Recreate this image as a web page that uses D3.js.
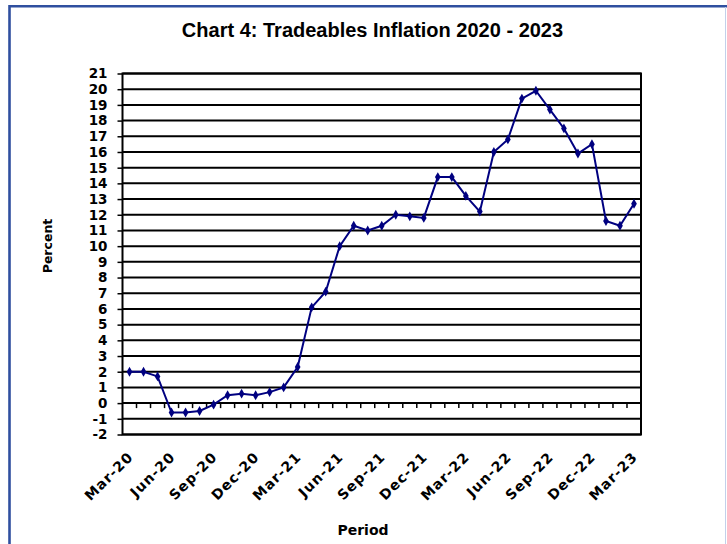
<!DOCTYPE html>
<html>
<head>
<meta charset="utf-8">
<script src="https://cdn.jsdelivr.net/npm/d3@7"></script>
<style>
  body { margin: 0; background: #fff; }
  svg { display: block; font-family: 'DejaVu Sans', sans-serif; }
</style>
</head>
<body>
<svg id="chart" width="727" height="544"></svg>
<script>
// monthly periods, Mar-20 .. Mar-23
var periods = [
  'Mar-20', 'Apr-20', 'May-20', 'Jun-20', 'Jul-20', 'Aug-20', 'Sep-20', 'Oct-20', 'Nov-20', 'Dec-20',
  'Jan-21', 'Feb-21', 'Mar-21', 'Apr-21', 'May-21', 'Jun-21', 'Jul-21', 'Aug-21', 'Sep-21', 'Oct-21',
  'Nov-21', 'Dec-21', 'Jan-22', 'Feb-22', 'Mar-22', 'Apr-22', 'May-22', 'Jun-22', 'Jul-22', 'Aug-22',
  'Sep-22', 'Oct-22', 'Nov-22', 'Dec-22', 'Jan-23', 'Feb-23', 'Mar-23'
]

// tradeables inflation, percent
var inflation = [
  2.0, 2.0, 1.7, -0.6, -0.6, -0.5, -0.1, 0.5, 0.6, 0.5,
  0.7, 1.0, 2.3, 6.1, 7.1, 10.0, 11.3, 11.0, 11.3, 12.0,
  11.9, 11.8, 14.4, 14.4, 13.2, 12.2, 16.0, 16.8, 19.4, 19.9,
  18.7, 17.5, 15.9, 16.5, 11.6, 11.3, 12.7
]

var xTickLabels = ['Mar-20', 'Jun-20', 'Sep-20', 'Dec-20', 'Mar-21', 'Jun-21', 'Sep-21',
  'Dec-21', 'Mar-22', 'Jun-22', 'Sep-22', 'Dec-22', 'Mar-23']

var yTicks = [-2, -1, 0, 1, 2, 3, 4, 5, 6, 7, 8, 9, 10, 11, 12, 13, 14, 15, 16, 17, 18, 19, 20, 21]

var svg = d3.select('#chart')

// plot box (window.top is reserved, so no plain `top`)
var plotLeft = 122.5
var plotRight = 641
var plotTop = 73.5
var plotBottom = 434.5
var lineColor = '#000080'

// outer frame (blue rule on top and left, faint on right)
svg.append('line')
  .attr('x1', 9.5).attr('x2', 727).attr('y1', 6.2).attr('y2', 6.2)
  .attr('stroke', '#2f4f9f').attr('stroke-width', 2.6)
svg.append('line')
  .attr('x1', 9.5).attr('x2', 9.5).attr('y1', 5).attr('y2', 544)
  .attr('stroke', '#2f4f9f').attr('stroke-width', 2.6)
svg.append('line')
  .attr('x1', 725.5).attr('x2', 725.5).attr('y1', 7).attr('y2', 544)
  .attr('stroke', '#c3d0ea').attr('stroke-width', 1)

var x = d3.scaleBand()
  .domain(periods)
  .range([plotLeft, plotRight])

var y = d3.scaleLinear()
  .domain([-2, 21])
  .range([plotBottom, plotTop])

var xc = function (p) { return x(p) + x.bandwidth() / 2 }

// gridlines
svg.append('g')
  .selectAll('line')
  .data(yTicks)
  .join('line')
  .attr('x1', plotLeft)
  .attr('x2', plotRight)
  .attr('y1', (d) => y(d))
  .attr('y2', (d) => y(d))
  .attr('stroke', '#000')
  .attr('stroke-width', 2)

// category tick marks hanging from the zero line
svg.append('g')
  .selectAll('line')
  .data(periods.slice(1))
  .join('line')
  .attr('x1', (d) => x(d))
  .attr('x2', (d) => x(d))
  .attr('y1', y(0))
  .attr('y2', y(0) + 5)
  .attr('stroke', '#000')
  .attr('stroke-width', 1.5)

// plot border
svg.append('rect')
  .attr('x', plotLeft)
  .attr('y', plotTop)
  .attr('width', plotRight - plotLeft)
  .attr('height', plotBottom - plotTop)
  .attr('fill', 'none')
  .attr('stroke', '#000')
  .attr('stroke-width', 2)

// y axis (plain hyphen for negatives, like the original)
var yAxis = svg.append('g')
  .attr('transform', 'translate(' + plotLeft + ',0)')
  .call(d3.axisLeft(y).tickValues(yTicks).tickSize(5).tickPadding(10).tickFormat((d) => String(d)))
yAxis.select('.domain').remove()
yAxis.selectAll('.tick line').attr('stroke', '#000').attr('stroke-width', 1.5)
yAxis.selectAll('.tick text')
  .attr('font-family', 'DejaVu Sans, sans-serif')
  .attr('font-size', 13.5)
  .attr('font-weight', 'bold')
  .attr('fill', '#000')

// x labels, rotated
svg.append('g')
  .selectAll('text')
  .data(xTickLabels)
  .join('text')
  .attr('transform', (d) => 'translate(' + (xc(d) + 1) + ',' + (plotBottom + 20) + ') rotate(-45)')
  .attr('text-anchor', 'end')
  .attr('dy', '0.35em')
  .attr('font-size', 14)
  .attr('letter-spacing', 1)
  .attr('font-weight', 'bold')
  .attr('fill', '#000')
  .text((d) => d)

// series
var line = d3.line()
  .x((d, i) => xc(periods[i]))
  .y((d) => y(d))

svg.append('path')
  .datum(inflation)
  .attr('d', line)
  .attr('fill', 'none')
  .attr('stroke', lineColor)
  .attr('stroke-width', 2)

svg.append('g')
  .selectAll('path')
  .data(inflation)
  .join('path')
  .attr('transform', (d, i) => 'translate(' + xc(periods[i]) + ',' + y(d) + ')')
  .attr('d', d3.symbol().type(d3.symbolDiamond).size(28)())
  .attr('fill', lineColor)

// titles
svg.append('text')
  .attr('x', 372.5)
  .attr('y', 37)
  .attr('text-anchor', 'middle')
  .attr('font-family', 'Liberation Sans, sans-serif')
  .attr('font-size', 20)
  .attr('font-weight', 'bold')
  .text('Chart 4: Tradeables Inflation 2020 - 2023')

svg.append('text')
  .attr('transform', 'translate(52,246) rotate(-90)')
  .attr('text-anchor', 'middle')
  .attr('font-size', 12.5)
  .attr('font-weight', 'bold')
  .text('Percent')

svg.append('text')
  .attr('x', 363)
  .attr('y', 535)
  .attr('text-anchor', 'middle')
  .attr('font-size', 14)
  .attr('font-weight', 'bold')
  .text('Period')
</script>
</body>
</html>
